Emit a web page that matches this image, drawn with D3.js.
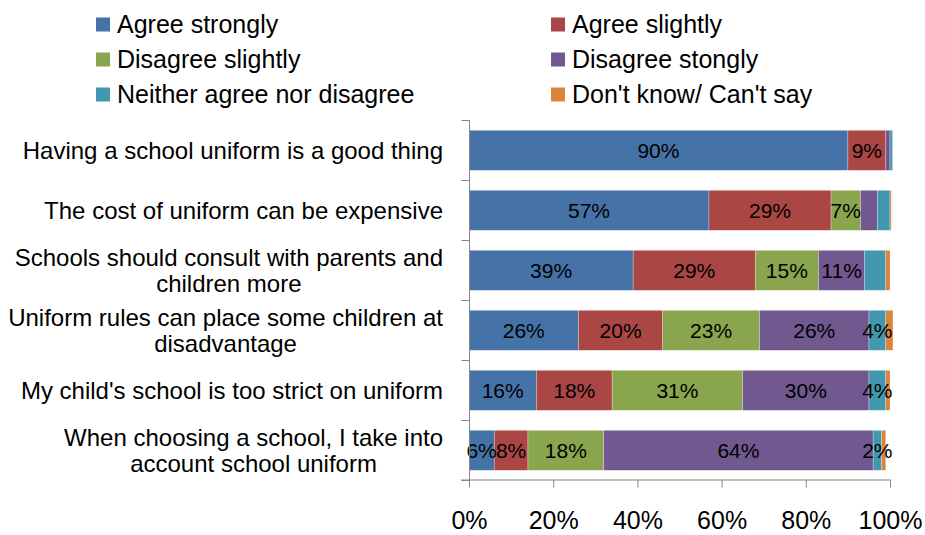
<!DOCTYPE html>
<html><head><meta charset="utf-8">
<script src="https://cdn.jsdelivr.net/npm/d3@7"></script>
<style>body{margin:0;background:#fff}svg{display:block;font-family:"Liberation Sans",Arial,sans-serif}</style>
</head><body><svg id="c" width="925" height="535"></svg>
<script>
const categories = [
  "Having a school uniform is a good thing",
  "The cost of uniform can be expensive",
  "Schools should consult with parents and\nchildren more",
  "Uniform rules can place some children at\ndisadvantage",
  "My child's school is too strict on uniform",
  "When choosing a school, I take into\naccount school uniform"
];
const seriesNames = ["Agree strongly","Agree slightly","Disagree slightly","Disagree stongly","Neither agree nor disagree","Don't know/ Can't say"];
const agreeStrongly    = [90, 57, 39, 26, 16, 6];
const agreeSlightly    = [9, 29, 29, 20, 18, 8];
const disagreeSlightly = [0, 7, 15, 23, 31, 18];
const disagreeStrongly = [1, 4, 11, 26, 30, 64];
const neither          = [0.6, 3, 5, 4, 4, 2];
const dontKnow         = [0, 0.3, 1, 1.7, 1, 1];
// which data labels are displayed in the original
const showAgreeStrongly    = [1,1,1,1,1,1];
const showAgreeSlightly    = [1,1,1,1,1,1];
const showDisagreeSlightly = [0,1,1,1,1,1];
const showDisagreeStrongly = [0,0,1,1,1,1];
const showNeither          = [0,0,0,1,1,1];
const showDontKnow         = [0,0,0,0,0,0];
const xTicks = [0, 20, 40, 60, 80, 100];
const colors = ["#4572A7","#AA4643","#89A54E","#71588F","#4198AF","#DB843D"];

const seriesValues = [agreeStrongly, agreeSlightly, disagreeSlightly, disagreeStrongly, neither, dontKnow];
const seriesShow = [showAgreeStrongly, showAgreeSlightly, showDisagreeSlightly, showDisagreeStrongly, showNeither, showDontKnow];

const rows = categories.map((c, i) => {
  const r = {cat: c, idx: i};
  seriesNames.forEach((s, j) => r[s] = seriesValues[j][i]);
  return r;
});
const stacked = d3.stack().keys(seriesNames)(rows);

const svg = d3.select("#c");
const x = d3.scaleLinear().domain([0, 100]).range([469, 890]);
const y = d3.scaleBand().domain(categories).range([120.3, 480.3]).paddingInner(1/3).paddingOuter(1/6);

// bars
const g = svg.append("g");
stacked.forEach((layer, j) => {
  g.append("g").attr("fill", colors[j]).selectAll("rect").data(layer).join("rect")
    .attr("x", d => x(d[0])).attr("width", d => Math.max(0, x(d[1]) - x(d[0])))
    .attr("y", d => y(d.data.cat)).attr("height", y.bandwidth())
    .attr("stroke", "rgba(255,255,255,0.45)").attr("stroke-width", 0.6);
});
// labels
stacked.forEach((layer, j) => {
  const shown = layer.filter(d => seriesShow[j][d.data.idx]);
  g.append("g").selectAll("text").data(shown).join("text")
    .attr("x", d => (x(d[0]) + x(d[1])) / 2)
    .attr("y", d => y(d.data.cat) + y.bandwidth() / 2 + 7.5)
    .attr("text-anchor", "middle").attr("font-size", 21).attr("fill", "#000")
    .text(d => Math.round(seriesValues[j][d.data.idx]) + "%");
});

// axes
const axisColor = "#868686";
const xAxis = svg.append("g").attr("transform", "translate(0,479.5)")
  .call(d3.axisBottom(x).tickValues(xTicks).tickSize(8).tickSizeOuter(0).tickFormat(d => d + "%"));
xAxis.select(".domain").attr("stroke", axisColor).attr("d", "M461,0.5H890");
xAxis.selectAll(".tick line").attr("stroke", axisColor);
xAxis.selectAll(".tick text").attr("font-size", 25).attr("fill", "#000").attr("dy", 0).attr("y", 49.5)
  .attr("font-family", "'Liberation Sans',Arial,sans-serif");

const yAxis = svg.append("g").attr("transform", "translate(469.5,0)");
yAxis.append("line").attr("x1", 0).attr("x2", 0).attr("y1", 120.3).attr("y2", 487).attr("stroke", axisColor);
const bounds = categories.map(c => y(c) - y.step() * y.paddingInner() / 2).concat([480.3]);
yAxis.selectAll("line.t").data(bounds).join("line").attr("class", "t")
  .attr("x1", -8).attr("x2", 0).attr("y1", d => Math.round(d) + 0.5).attr("y2", d => Math.round(d) + 0.5).attr("stroke", axisColor);

// category labels
const catG = svg.append("g");
const lh = 26.5;
categories.forEach(c => {
  const lines = c.split("\n");
  const cy = y(c) + y.bandwidth() / 2;
  const t = catG.append("text").attr("font-size", 24).attr("fill", "#000");
  const spans = lines.map((ln, k) => t.append("tspan").attr("y", cy - (lines.length - 1) * lh / 2 + k * lh + 8.5).text(ln));
  const widths = spans.map(s => s.node().getComputedTextLength());
  const maxW = d3.max(widths);
  const mid = 443 - maxW / 2;
  spans.forEach(s => s.attr("x", mid).attr("text-anchor", "middle"));
});

// legend
const legend = svg.append("g");
const legPos = [[96, 24.5], [551, 24.5], [96, 59.5], [551, 59.5], [96, 94.5], [551, 94.5]];
seriesNames.forEach((s, j) => {
  const [lx, ly] = legPos[j];
  legend.append("rect").attr("x", lx).attr("y", ly - 7).attr("width", 14).attr("height", 14).attr("fill", colors[j]);
  legend.append("text").attr("x", lx + 21).attr("y", ly + 8.5).attr("font-size", 25).attr("fill", "#000").text(s);
});
</script></body></html>
